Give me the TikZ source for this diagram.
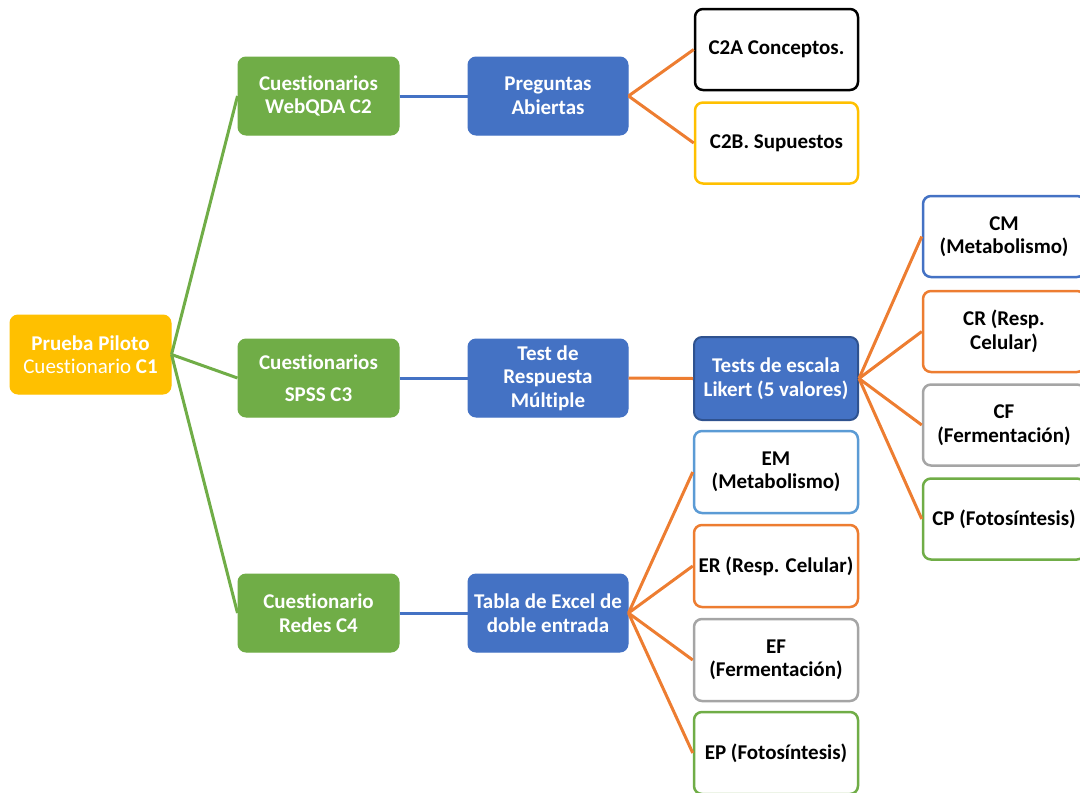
\documentclass[tikz,border=0pt]{standalone}
\usepackage{fontspec}
\setmainfont{Carlito}[Ligatures=NoCommon]
\definecolor{gold}{HTML}{FFC000}
\definecolor{leaf}{HTML}{70AD47}
\definecolor{royal}{HTML}{4472C4}
\definecolor{royaldark}{HTML}{2F528F}
\definecolor{tangerine}{HTML}{ED7D31}
\definecolor{silver}{HTML}{A5A5A5}
\definecolor{sky}{HTML}{5B9BD5}
\begin{document}
\begin{tikzpicture}[x=1pt,y=-1pt,
  base/.style={rounded corners=8pt, inner sep=0pt, align=center,
    font=\fontsize{21}{23.5}\selectfont\bfseries},
  filled/.style={base, fill=#1, draw=#1, line width=1pt, text=white},
  outlined/.style={base, fill=white, draw=#1, line width=2.5pt, text=black},
  link/.style={line width=3pt, draw=#1}]
\useasboundingbox (0,0) rectangle (1080,793);
\clip (0,0) rectangle (1080,793);

% root
\node[filled=gold, minimum width=161pt, minimum height=79pt] (root) at (90.5,354.5)
  {Prueba Piloto\\\mdseries Cuestionario \bfseries C1};

% second level
\node[filled=leaf, minimum width=161pt, minimum height=78pt] (c2) at (318.5,96) {Cuestionarios\\WebQDA C2};
\node[filled=leaf, minimum width=161pt, minimum height=78pt] (c3) at (318.5,378) {Cuestionarios\\[9pt]SPSS C3};
\node[filled=leaf, minimum width=161pt, minimum height=78pt] (c4) at (318.5,613) {Cuestionario\\Redes C4};

% third level
\node[filled=royal, minimum width=160pt, minimum height=78pt] (pa) at (548,96) {Preguntas\\Abiertas};
\node[filled=royal, minimum width=160pt, minimum height=78pt] (tr) at (548,378) {Test de\\Respuesta\\Múltiple};
\node[filled=royal, minimum width=160pt, minimum height=78pt] (te) at (548,613) {Tabla de Excel de\\doble entrada};

% open questions
\node[outlined=black, minimum width=163pt, minimum height=81pt] (c2a) at (776.5,49.5) {C2A Conceptos.};
\node[outlined=gold, minimum width=163pt, minimum height=81pt] (c2b) at (776.5,143) {C2B. Supuestos};

% Likert
\node[base, fill=royal, draw=royaldark, line width=2pt, text=white, minimum width=164pt, minimum height=83pt] (lk) at (776,378.5)
  {Tests de escala\\Likert (5 valores)};

% Likert items
\node[outlined=royal, minimum width=162pt, minimum height=81pt] (cm) at (1004,236.5) {CM\\(Metabolismo)};
\node[outlined=tangerine, minimum width=162pt, minimum height=81pt] (cr) at (1004,331.5) {CR (Resp.\\Celular)};
\node[outlined=silver, minimum width=162pt, minimum height=81pt] (cf) at (1004,425) {CF\\(Fermentación)};
\node[outlined=leaf, minimum width=162pt, minimum height=81pt] (cp) at (1004,519) {CP (Fotosíntesis)};

% Excel items
\node[outlined=sky, minimum width=164pt, minimum height=82pt] (em) at (776,472) {EM\\(Metabolismo)};
\node[outlined=tangerine, minimum width=164pt, minimum height=82pt] (er) at (776,566) {ER (Resp. Celular)};
\node[outlined=silver, minimum width=164pt, minimum height=82pt] (ef) at (776,660) {EF\\(Fermentación)};
\node[outlined=leaf, minimum width=164pt, minimum height=82pt] (ep) at (776,753) {EP (Fotosíntesis)};

% connectors
\foreach \t in {c2,c3,c4} \draw[link=leaf] (root.east) -- (\t.west);
\draw[link=royal] (c2.east) -- (pa.west);
\draw[link=royal] (c3.east) -- (tr.west);
\draw[link=royal] (c4.east) -- (te.west);
\foreach \t in {c2a,c2b} \draw[link=tangerine] (pa.east) -- (\t.west);
\draw[link=tangerine] (tr.east) -- (lk.west);
\foreach \t in {cm,cr,cf,cp} \draw[link=tangerine] (lk.east) -- (\t.west);
\foreach \t in {em,er,ef,ep} \draw[link=tangerine] (te.east) -- (\t.west);
\end{tikzpicture}
\end{document}
